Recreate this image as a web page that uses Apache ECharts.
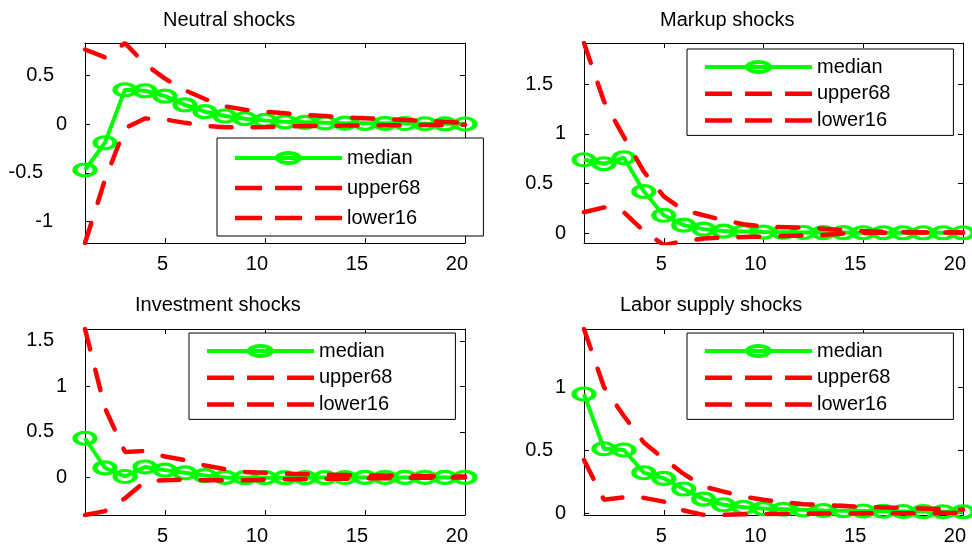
<!DOCTYPE html>
<html>
<head>
<meta charset="utf-8">
<script src="https://cdn.jsdelivr.net/npm/echarts@6/dist/echarts.min.js"></script>
<style>
  html, body { margin: 0; padding: 0; background: #fff; }
  #chart { width: 972px; height: 546px; }
</style>
</head>
<body>
<div id="chart"></div>
<script>
// Impulse-response horizon (periods)
const horizon = [1, 2, 3, 4, 5, 6, 7, 8, 9, 10, 11, 12, 13, 14, 15, 16, 17, 18, 19, 20];

const panelTitles = ['Neutral shocks', 'Markup shocks', 'Investment shocks', 'Labor supply shocks'];
const bandNames = ['median', 'upper68', 'lower16'];

// Neutral shocks
const neutralMedian = [-0.47, -0.19, 0.355, 0.345, 0.29, 0.20, 0.13, 0.085, 0.058, 0.04, 0.025, 0.02, 0.015, 0.012, 0.01, 0.01, 0.008, 0.006, 0.005, 0.003];
const neutralUpper = [0.77, 0.69, 0.837, 0.62, 0.47, 0.35, 0.26, 0.185, 0.15, 0.13, 0.113, 0.096, 0.085, 0.072, 0.062, 0.055, 0.044, 0.034, 0.027, 0.015];
const neutralLower = [-1.222, -0.57, -0.04, 0.06, 0.05, 0.015, -0.015, -0.03, -0.03, -0.028, -0.022, -0.018, -0.015, -0.013, -0.012, -0.01, -0.009, -0.008, -0.006, -0.005];

// Markup shocks
const markupMedian = [0.74, 0.70, 0.76, 0.42, 0.18, 0.08, 0.04, 0.02, 0.015, 0.01, 0.008, 0.006, 0.005, 0.005, 0.004, 0.004, 0.003, 0.003, 0.003, 0.003];
const markupUpper = [1.918, 1.33, 0.97, 0.62, 0.37, 0.23, 0.18, 0.13, 0.09, 0.065, 0.06, 0.055, 0.045, 0.03, 0.02, 0.012, 0.01, 0.008, 0.006, 0.005];
const markupLower = [0.21, 0.26, 0.21, 0.02, -0.12, -0.08, -0.055, -0.045, -0.04, -0.035, -0.03, -0.025, -0.02, -0.005, 0.0, 0.004, 0.005, 0.005, 0.005, 0.005];

// Investment shocks
const investMedian = [0.43, 0.105, 0.01, 0.115, 0.08, 0.05, 0.02, 0.0, -0.003, -0.003, -0.003, -0.002, -0.002, -0.001, 0.0, 0.0, 0.0, 0.0, 0.0, 0.0];
const investUpper = [1.63, 0.76, 0.28, 0.29, 0.23, 0.19, 0.13, 0.09, 0.06, 0.05, 0.04, 0.035, 0.03, 0.025, 0.02, 0.02, 0.015, 0.015, 0.01, 0.01];
const investLower = [-0.413, -0.37, -0.23, -0.045, -0.03, -0.025, -0.03, -0.03, -0.03, -0.025, -0.02, -0.02, -0.015, -0.015, -0.01, -0.01, -0.005, -0.005, 0.0, 0.0];

// Labor supply shocks
const laborMedian = [0.945, 0.51, 0.50, 0.32, 0.275, 0.19, 0.11, 0.065, 0.045, 0.035, 0.03, 0.025, 0.02, 0.018, 0.016, 0.014, 0.012, 0.011, 0.01, 0.01];
const laborUpper = [1.461, 1.0, 0.77, 0.56, 0.43, 0.31, 0.21, 0.17, 0.13, 0.105, 0.085, 0.07, 0.063, 0.055, 0.048, 0.043, 0.04, 0.035, 0.03, 0.027];
const laborLower = [0.42, 0.105, 0.125, 0.12, 0.09, 0.02, -0.015, -0.015, -0.01, -0.008, -0.007, -0.006, -0.005, -0.004, -0.003, -0.003, -0.002, -0.002, -0.001, -0.001];

// Axis ticks and limits
const xTicks = [5, 10, 15, 20];
const yTicks = [[-1, -0.5, 0, 0.5], [0, 0.5, 1, 1.5], [0, 0.5, 1, 1.5], [0, 0.5, 1]];
const yLimits = [[-1.222, 0.837], [-0.1, 1.918], [-0.413, 1.63], [-0.016, 1.461]];

const panelData = [
  [neutralMedian, neutralUpper, neutralLower],
  [markupMedian, markupUpper, markupLower],
  [investMedian, investUpper, investLower],
  [laborMedian, laborUpper, laborLower]
];

// Layout of the 2x2 subplot grid
const FONT = 'Liberation Sans, Arial, Helvetica, sans-serif';
const grids = [
  { left: 85, top: 43, width: 380, height: 200 },
  { left: 584, top: 43, width: 379, height: 200 },
  { left: 85, top: 329, width: 380, height: 188 },
  { left: 584, top: 329, width: 379, height: 188 }
];
const titlePos = [
  { left: 163, top: 10 },
  { left: 660, top: 10 },
  { left: 135, top: 295 },
  { left: 620, top: 295 }
];
const legendPos = [
  { left: 217, top: 138, padding: [10, 63, 8, 18], itemGap: 10 },
  { left: 687, top: 49, padding: [8, 63, 5, 18], itemGap: 6.7 },
  { left: 189, top: 333, padding: [8, 63, 5, 18], itemGap: 6.7 },
  { left: 687, top: 333, padding: [8, 63, 5, 18], itemGap: 6.7 }
];

// Hollow elliptical marker and legend glyphs
const RING = 'path://M-1,0A1,1,0,1,1,1,0A1,1,0,1,1,-1,0Z';
const MEDIAN_ICON = 'path://M0,5H107V9H0Z M40,7A13.5,7,0,1,1,67,7A13.5,7,0,1,1,40,7Z M44,7A9.5,3,0,1,0,63,7A9.5,3,0,1,0,44,7Z';
const DASH_ICON = 'path://M0,0H27V4.5H0Z M40,0H67V4.5H40Z M80,0H107V4.5H80Z';

const GREEN = '#00ff00';
const RED = '#ff0000';

const baseText = { fontSize: 20, color: '#000', fontFamily: FONT };

// Tick-label styles: the y labels sit at staggered offsets from the axis
const yLabelRich = {
  whole: Object.assign({ padding: [0, 0, 0, 0] }, baseText),
  frac: Object.assign({ padding: [0, 13, 0, 0] }, baseText),
  negWhole: Object.assign({ padding: [0, 14, 0, 0] }, baseText),
  negFrac: Object.assign({ padding: [0, 24, 0, 0] }, baseText)
};
function yLabelFormatter(v) {
  const s = String(v);
  const neg = v < 0;
  const frac = s.indexOf('.') >= 0;
  const key = neg ? (frac ? 'negFrac' : 'negWhole') : (frac ? 'frac' : 'whole');
  return '{' + key + '|' + s + '}';
}
const xLabelRich = {
  t: Object.assign({ padding: [0, -3, 0, 0] }, baseText)
};

const option = {
  animation: false,
  backgroundColor: '#fff',
  title: [],
  grid: [],
  xAxis: [],
  yAxis: [],
  legend: [],
  series: []
};

function axisCommon(extra) {
  return Object.assign({
    type: 'value',
    splitLine: { show: false },
    axisLine: { show: true, onZero: false, lineStyle: { color: '#000', width: 1 } }
  }, extra);
}

panelData.forEach((bands, p) => {
  const g = grids[p];
  option.grid.push({ left: g.left, top: g.top, width: g.width, height: g.height, containLabel: false });

  option.title.push({
    text: panelTitles[p],
    left: titlePos[p].left,
    top: titlePos[p].top,
    padding: 0,
    textStyle: Object.assign({ fontWeight: 'normal' }, baseText)
  });

  // bottom / top x axes
  option.xAxis.push(axisCommon({
    gridIndex: p, position: 'bottom', min: 1, max: 20,
    axisTick: { show: true, inside: true, length: 5, customValues: xTicks, lineStyle: { color: '#000' } },
    axisLabel: Object.assign({
      show: true, customValues: xTicks, margin: 11, align: 'right',
      formatter: v => '{t|' + v + '}', rich: xLabelRich
    }, baseText)
  }));
  option.xAxis.push(axisCommon({
    gridIndex: p, position: 'top', min: 1, max: 20,
    axisTick: { show: true, inside: true, length: 5, customValues: xTicks, lineStyle: { color: '#000' } },
    axisLabel: { show: false }
  }));
  // left / right y axes
  option.yAxis.push(axisCommon({
    gridIndex: p, position: 'left', min: yLimits[p][0], max: yLimits[p][1],
    axisTick: { show: true, inside: true, length: 5, customValues: yTicks[p], lineStyle: { color: '#000' } },
    axisLabel: Object.assign({
      show: true, customValues: yTicks[p], margin: 18,
      formatter: yLabelFormatter, rich: yLabelRich
    }, baseText)
  }));
  option.yAxis.push(axisCommon({
    gridIndex: p, position: 'right', min: yLimits[p][0], max: yLimits[p][1],
    axisTick: { show: true, inside: true, length: 5, customValues: yTicks[p], lineStyle: { color: '#000' } },
    axisLabel: { show: false }
  }));

  bands.forEach((values, k) => {
    const isMedian = k === 0;
    option.series.push({
      name: bandNames[k],
      type: 'line',
      xAxisIndex: p * 2,
      yAxisIndex: p * 2,
      data: horizon.map((t, i) => [t, values[i]]),
      z: isMedian ? 2 : 3,
      symbol: isMedian ? RING : 'none',
      symbolSize: [20, 12],
      showSymbol: isMedian,
      itemStyle: isMedian ? { color: 'rgba(0,0,0,0)', borderColor: GREEN, borderWidth: 4 } : undefined,
      lineStyle: isMedian
        ? { color: GREEN, width: 4 }
        : { color: RED, width: 4.5, type: [21, 21], cap: 'round' },
      emphasis: { disabled: true },
      silent: true
    });
  });

  const lp = legendPos[p];
  option.legend.push({
    orient: 'vertical',
    left: lp.left,
    top: lp.top,
    padding: lp.padding,
    itemGap: lp.itemGap,
    itemWidth: 107,
    itemHeight: 14,
    itemTextGap: 8,
    backgroundColor: '#fff',
    borderColor: '#000',
    borderWidth: 1,
    borderRadius: 0,
    selectedMode: false,
    textStyle: Object.assign({ lineHeight: 20 }, baseText),
    data: [
      { name: 'median', icon: MEDIAN_ICON, itemStyle: { color: GREEN, borderWidth: 0 } },
      { name: 'upper68', icon: DASH_ICON, itemStyle: { color: RED, borderWidth: 0 } },
      { name: 'lower16', icon: DASH_ICON, itemStyle: { color: RED, borderWidth: 0 } }
    ]
  });
});

const chart = echarts.init(document.getElementById('chart'), null, { renderer: 'canvas' });
chart.setOption(option);
</script>
</body>
</html>
